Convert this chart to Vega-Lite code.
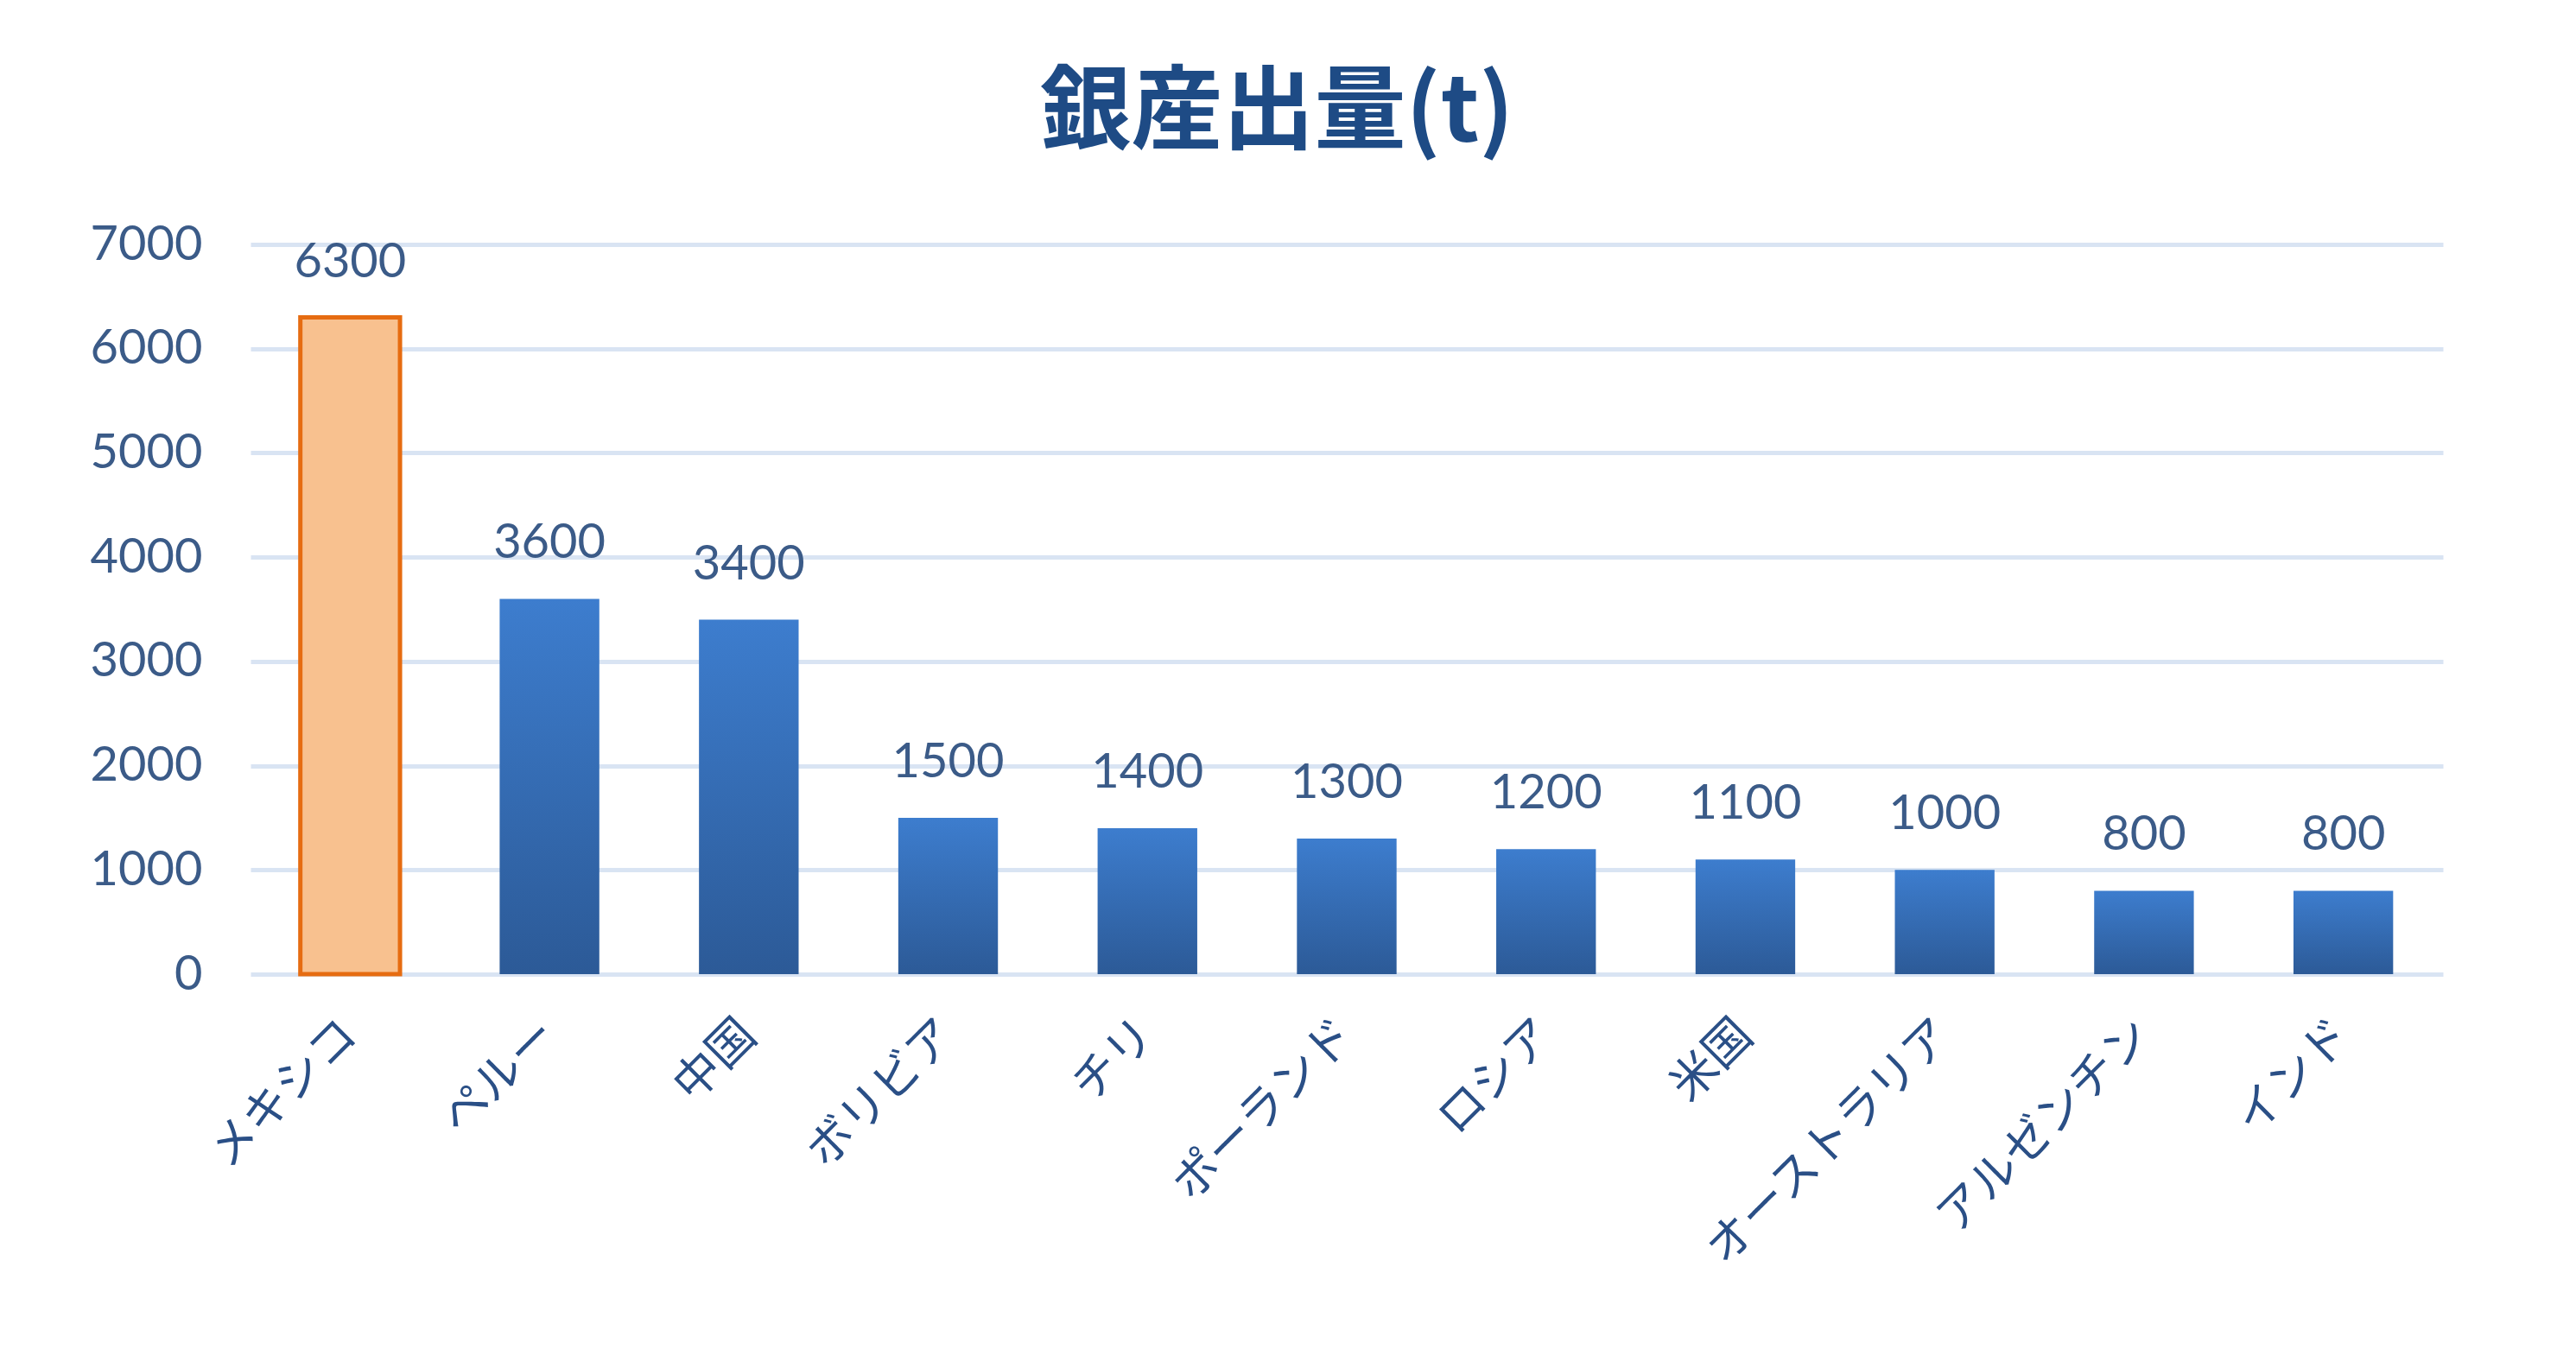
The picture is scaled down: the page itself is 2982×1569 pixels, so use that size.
{
  "$schema": "https://vega.github.io/schema/vega-lite/v6.json",
  "autosize": "none",
  "width": 2538,
  "height": 845,
  "padding": {"left": 290, "top": 283, "right": 154, "bottom": 441},
  "background": "white",
  "title": {
    "text": "銀産出量(t)",
    "font": "Noto Sans CJK JP",
    "fontSize": 106,
    "fontWeight": "bold",
    "color": "#1E4B85",
    "anchor": "middle",
    "frame": "group",
    "dx": -81,
    "baseline": "alphabetic",
    "offset": -15
  },
  "data": {
    "values": [
      {"country": "メキシコ", "tons": 6300},
      {"country": "ペルー", "tons": 3600},
      {"country": "中国", "tons": 3400},
      {"country": "ボリビア", "tons": 1500},
      {"country": "チリ", "tons": 1400},
      {"country": "ポーランド", "tons": 1300},
      {"country": "ロシア", "tons": 1200},
      {"country": "米国", "tons": 1100},
      {"country": "オーストラリア", "tons": 1000},
      {"country": "アルゼンチン", "tons": 800},
      {"country": "インド", "tons": 800}
    ]
  },
  "encoding": {
    "x": {
      "field": "country",
      "type": "nominal",
      "sort": null,
      "scale": {"paddingInner": 0.5, "paddingOuter": 0.25},
      "axis": {
        "title": null,
        "domain": false,
        "ticks": false,
        "labelAngle": -45,
        "labelAlign": "right",
        "labelBaseline": "middle",
        "labelPadding": 62,
        "labelLimit": 0,
        "labelFont": "Noto Sans CJK JP",
        "labelFontSize": 54,
        "labelColor": "#2A4F86"
      }
    },
    "y": {
      "field": "tons",
      "type": "quantitative",
      "scale": {"domain": [0, 7000], "nice": false},
      "axis": {
        "title": null,
        "domain": false,
        "ticks": false,
        "format": "d",
        "values": [0, 1000, 2000, 3000, 4000, 5000, 6000, 7000],
        "labelPadding": 56,
        "labelFont": "Lato",
        "labelFontSize": 56,
        "labelColor": "#3B5B88",
        "gridColor": "#D9E4F3",
        "gridWidth": 5
      }
    }
  },
  "layer": [
    {
      "mark": {"type": "bar", "strokeWidth": 5},
      "encoding": {
        "fill": {
          "condition": {"test": "datum.country === 'メキシコ'", "value": "#F8C18F"},
          "value": {
            "gradient": "linear",
            "x1": 0, "y1": 0, "x2": 0, "y2": 1,
            "stops": [
              {"offset": 0, "color": "#3D7DCE"},
              {"offset": 1, "color": "#2C5A97"}
            ]
          }
        },
        "stroke": {
          "condition": {"test": "datum.country === 'メキシコ'", "value": "#E66C11"},
          "value": null
        }
      }
    },
    {
      "mark": {
        "type": "text",
        "baseline": "alphabetic",
        "dy": -47,
        "font": "Lato",
        "fontSize": 56,
        "color": "#3B5B88"
      },
      "encoding": {
        "text": {"field": "tons", "type": "quantitative", "format": "d"}
      }
    }
  ],
  "config": {
    "view": {"stroke": null}
  }
}
